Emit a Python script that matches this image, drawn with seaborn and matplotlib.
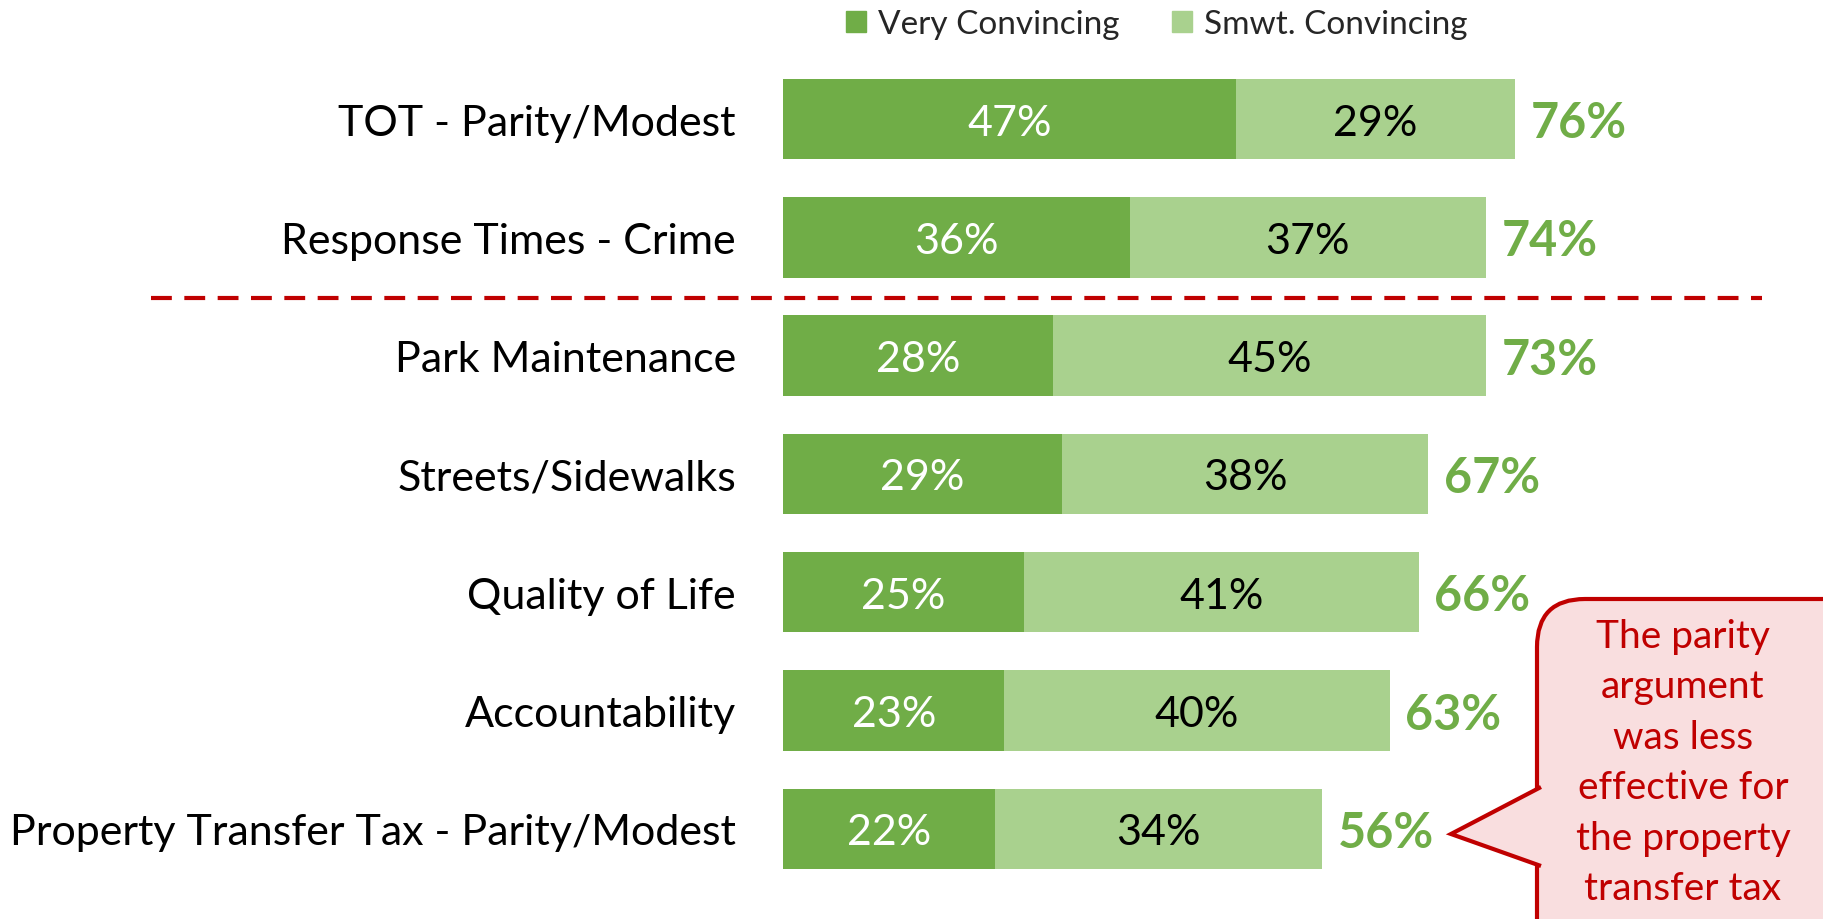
import pandas as pd
import matplotlib.pyplot as plt
import seaborn as sns
from matplotlib.patches import Patch, FancyBboxPatch, Polygon

# data
categories = ['TOT - Parity/Modest', 'Response Times - Crime', 'Park Maintenance',
              'Streets/Sidewalks', 'Quality of Life', 'Accountability',
              'Property Transfer Tax - Parity/Modest']
very = [47, 36, 28, 29, 25, 23, 22]
smwt = [29, 37, 45, 38, 41, 40, 34]
totals = [76, 74, 73, 67, 66, 63, 56]
series_names = ['Very Convincing', 'Smwt. Convincing']
callout_text = 'The parity\nargument\nwas less\neffective for\nthe property\ntransfer tax'

DARK = '#70AD47'
LIGHT = '#A9D18E'
RED = '#C00000'
PINK = '#F9DEDF'

sns.set_style('white')
plt.rcParams['font.family'] = ['Lato', 'DejaVu Sans']

df = pd.DataFrame({'cat': categories, 'very': very, 'smwt': smwt, 'total': totals})
df['stack'] = df['very'] + df['smwt']

W, H = 1824, 920
fig = plt.figure(figsize=(W / 100, H / 100), dpi=100)
ax = fig.add_axes([0, 0, 1, 1])

# x=0 at pixel 783, 9.63 px per percent; rows 118.3 px apart starting at y=120
ppx = 9.63
x0 = 783
row = 118.3
y0 = 120

sns.barplot(data=df, x='stack', y='cat', order=categories, color=LIGHT,
            width=0.68, saturation=1, ax=ax, orient='h', linewidth=0)
sns.barplot(data=df, x='very', y='cat', order=categories, color=DARK,
            width=0.68, saturation=1, ax=ax, orient='h', linewidth=0)

ax.set_xlim(-x0 / ppx, (W - x0) / ppx)
ax.set_ylim((H - y0) / row, -y0 / row)
ax.axis('off')

fs = 31
dy = 0.03  # text sits a touch below the bar centre
for i, r in df.iterrows():
    ax.text(-4.9, i + dy, r['cat'], ha='right', va='center', fontsize=fs, color='black')
    ax.text(r['very'] / 2, i + dy, f"{r['very']}%", ha='center', va='center',
            fontsize=fs, color='white')
    ax.text(r['very'] + r['smwt'] / 2, i + dy, f"{r['smwt']}%", ha='center', va='center',
            fontsize=fs, color='black')
    ax.text(r['stack'] + 1.6, i + dy, f"{r['total']}%", ha='left', va='center',
            fontsize=35, color=DARK, fontweight='bold')

# overlay in pixel coordinates for the divider, legend and callout
ov = fig.add_axes([0, 0, 1, 1], facecolor='none')
ov.set_xlim(0, W)
ov.set_ylim(H, 0)
ov.axis('off')

ov.plot([151, 1762], [299, 299], color=RED, lw=3, linestyle=(0, (5, 3)))

handles = [Patch(color=DARK), Patch(color=LIGHT)]
ov.legend(handles, series_names, loc='upper left', bbox_to_anchor=(846, 10),
          bbox_transform=ov.transData, ncol=2, frameon=False, fontsize=24,
          handlelength=0.6, handleheight=0.6, handletextpad=0.35,
          columnspacing=1.6, borderpad=0, borderaxespad=0)

box = FancyBboxPatch((1537, 600), 420, 420, boxstyle='round,pad=0,rounding_size=48',
                     facecolor=PINK, edgecolor=RED, lw=3)
ov.add_patch(box)
ov.add_patch(Polygon([(1541, 788), (1451, 835), (1541, 867)], closed=False,
                     facecolor=PINK, edgecolor=RED, lw=3))
ov.text(1683, 763, callout_text, ha='center', va='center', fontsize=28,
        color=RED, linespacing=1.5)

fig.savefig('out.png', dpi=100)
